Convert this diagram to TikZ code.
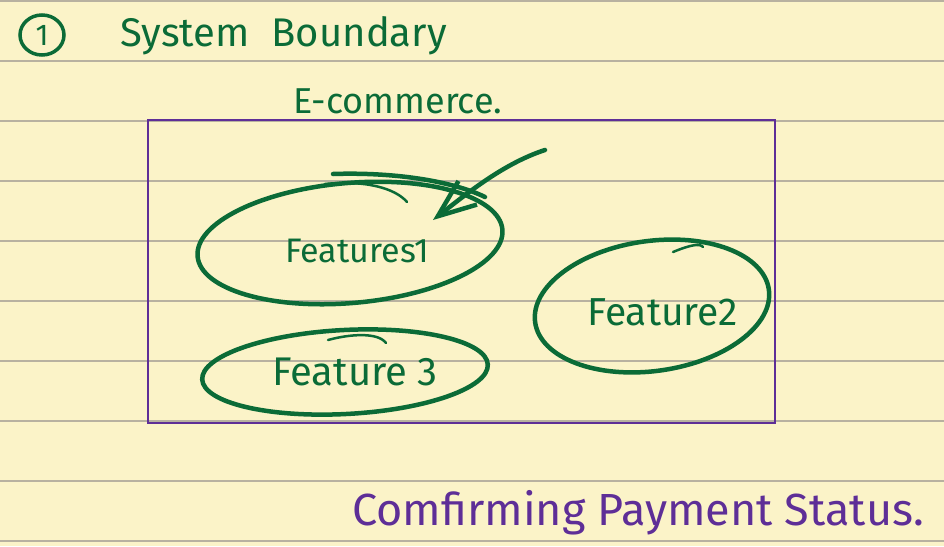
\documentclass[tikz,border=0pt]{standalone}
\usepackage{fontspec}
\setmainfont{Fira Sans}
\usetikzlibrary{arrows.meta,shapes.geometric}
\definecolor{paper}{HTML}{FBF3C8}
\definecolor{rulecol}{HTML}{B8B1A0}
\definecolor{ink}{HTML}{0B6B37}
\definecolor{violetink}{HTML}{5E2E97}
\begin{document}
\begin{tikzpicture}[x=1pt,y=-1pt,
  hand/.style={inner sep=0pt, anchor=base west, text=ink},
  pen/.style={draw=ink, line width=4.5pt, line cap=round, line join=round},
  thinpen/.style={draw=ink, line width=2.5pt, line cap=round}]
\fill[paper] (0,0) rectangle (944,546);
\useasboundingbox (0,0) rectangle (944,546);
\foreach \k in {0,...,9} \draw[rulecol,line width=1.6pt] (0,{60*\k+1}) -- (944,{60*\k+1});
% heading
\node[ellipse, draw=ink, line width=3.5pt, minimum width=44pt, minimum height=40pt, inner sep=0pt, text=ink,
      font=\fontsize{30}{30}\selectfont] (num) at (42,35) {1};
\node[hand, font=\fontsize{40}{40}\selectfont] (title) at (120,46) {System\hspace{0.55em}Boundary};
\node[hand, font=\fontsize{36}{36}\selectfont] (ecom) at (293,113) {E-commerce.};
% system boundary
\draw[violetink, line width=2.2pt] (148,120) rectangle (775,423);
% feature 1
\draw[pen, rotate around={5:(350,243)}] (350,243) ellipse [x radius=153, y radius=60];
\draw[pen] (333,174) .. controls (390,172) and (450,180) .. (485,197);
\draw[thinpen] (325,184) .. controls (365,180) and (395,188) .. (407,202);
\node[hand, font=\fontsize{34}{34}\selectfont] (f1) at (285,262) {Features1};
% arrow
\coordinate (atail) at (545,150);
\coordinate (ahead) at (433,220);
\draw[pen, -{Straight Barb[length=38pt,width=30pt,line width=4.5pt]}] (atail) .. controls (505,163) and (470,191) .. (ahead);
% feature 2
\draw[pen, rotate around={8:(652,306)}] (652,306) ellipse [x radius=118, y radius=65];
\draw[thinpen] (673,252) .. controls (690,245) and (700,243) .. (703,247);
\node[hand, font=\fontsize{39}{39}\selectfont] (f2) at (587,325) {Feature2};
% feature 3
\draw[pen, rotate around={3:(345,372)}] (345,372) ellipse [x radius=143, y radius=42];
\draw[thinpen] (328,340) .. controls (350,334) and (378,332) .. (386,343);
\node[hand, font=\fontsize{40}{40}\selectfont] (f3) at (272,385) {Feature 3};
% bottom note
\node[hand, text=violetink, font=\fontsize{45}{45}\selectfont] (note) at (352,525) {Comfirming Payment Status.};
\end{tikzpicture}
\end{document}
